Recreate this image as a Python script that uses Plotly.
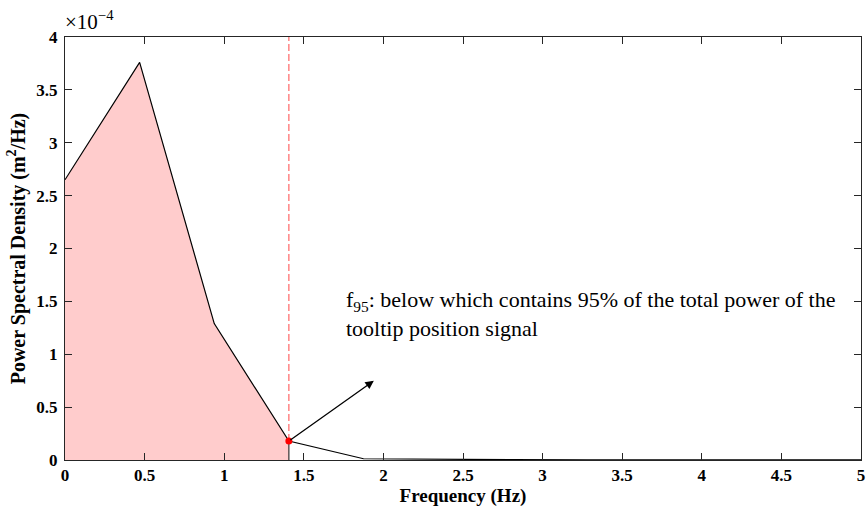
import plotly.graph_objects as go

# Data (PSD in units of 1e-4 m^2/Hz)
freq = [0.0, 0.46875, 0.9375, 1.40625, 1.875, 2.34375, 2.8125, 3.28125, 3.75, 4.21875, 4.6875, 5.15625]
psd_e4 = [2.65, 3.76, 1.29, 0.18, 0.012, 0.006, 0.003, 0.002, 0.001, 0.001, 0.001, 0.001]
f95 = 1.40625
f95_psd = 0.18
xticks = [0, 0.5, 1, 1.5, 2, 2.5, 3, 3.5, 4, 4.5, 5]
xticklabels = ["0", "0.5", "1", "1.5", "2", "2.5", "3", "3.5", "4", "4.5", "5"]
yticks = [0, 0.5, 1, 1.5, 2, 2.5, 3, 3.5, 4]
yticklabels = ["0", "0.5", "1", "1.5", "2", "2.5", "3", "3.5", "4"]

n_fill = freq.index(f95) + 1
fill_x = freq[:n_fill]
fill_y = psd_e4[:n_fill]

font_family = "Liberation Serif, Times New Roman, serif"

fig = go.Figure()
# shaded area up to f95
fig.add_trace(go.Scatter(
    x=fill_x + [f95, 0], y=fill_y + [0, 0], fill="toself",
    fillcolor="#FFCCCC", line=dict(width=0), mode="lines", hoverinfo="skip",
    showlegend=False))
# PSD curve
fig.add_trace(go.Scatter(x=freq, y=psd_e4, mode="lines",
                         line=dict(color="black", width=1.2), showlegend=False))
# vertical right edge of fill (solid dark)
fig.add_trace(go.Scatter(x=[f95, f95], y=[0, f95_psd], mode="lines",
                         line=dict(color="#333333", width=1.2), showlegend=False))
# dashed f95 line
fig.add_trace(go.Scatter(x=[f95, f95], y=[f95_psd, 4], mode="lines",
                         line=dict(color="#FF6666", width=1.2, dash="7px,3px"), showlegend=False))
# f95 point
fig.add_trace(go.Scatter(x=[f95], y=[f95_psd], mode="markers",
                         marker=dict(color="red", size=7), showlegend=False))

# arrow
fig.add_annotation(x=1.94, y=0.75, ax=f95, ay=f95_psd, xref="x", yref="y",
                   axref="x", ayref="y", showarrow=True, arrowhead=2,
                   arrowsize=1.3, arrowwidth=1.3, arrowcolor="black", text="")
# text
fig.add_annotation(x=1.75, y=1.38, xref="x", yref="y", xanchor="left", yanchor="middle",
                   align="left", showarrow=False,
                   text="f<sub>95</sub>: below which contains 95% of the total power of the<br>tooltip position signal",
                   font=dict(family=font_family, size=22, color="black"))
# exponent label
fig.add_annotation(x=0, y=1, xref="paper", yref="paper", xanchor="left", yanchor="bottom",
                   showarrow=False, text="×10<sup>−4</sup>", yshift=1, xshift=-2,
                   font=dict(family=font_family, size=21, color="black"))

axis_common = dict(showline=True, linecolor="#262626", linewidth=1, mirror="ticks",
                   ticks="inside", ticklen=7, tickcolor="#262626", showgrid=False,
                   zeroline=False, ticklabeloverflow="allow",
                   tickfont=dict(family=font_family, size=17, color="black", weight="bold"))
fig.update_xaxes(range=[0, 5], tickvals=xticks, ticktext=xticklabels,
                 title=dict(text="<b>Frequency (Hz)</b>", standoff=2,
                            font=dict(family=font_family, size=19, color="black")),
                 **axis_common)
fig.update_yaxes(range=[0, 4], tickvals=yticks, ticktext=yticklabels, ticklabelstandoff=3,
                 title=dict(text="<b>Power Spectral Density (m<sup>2</sup>/Hz)</b>", standoff=5,
                            font=dict(family=font_family, size=20, color="black")),
                 **axis_common)

fig.update_layout(width=868, height=507, margin=dict(l=65, r=3, t=37, b=47),
                  plot_bgcolor="white", paper_bgcolor="white",
                  font=dict(family=font_family, color="black"))
fig.write_html("out.html", config={"displayModeBar": False},
               post_script="document.body.style.margin='0px';")
